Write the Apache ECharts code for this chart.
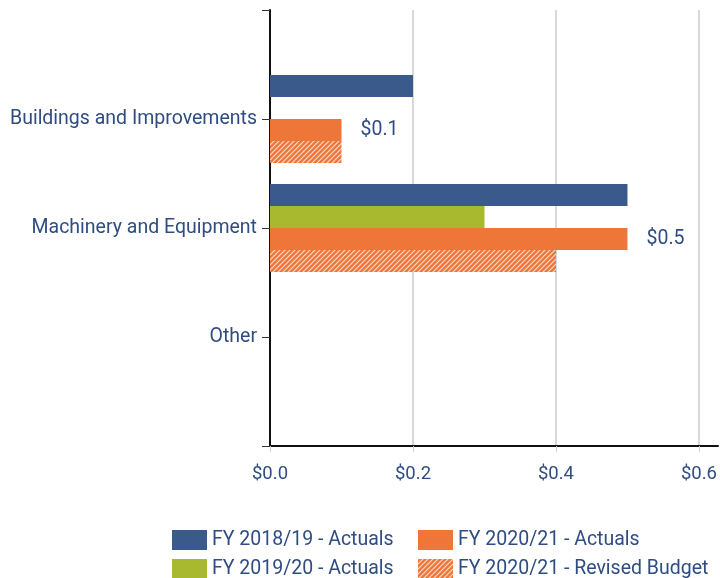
<!DOCTYPE html>
<html>
<head>
<meta charset="UTF-8">
<title>Capital Outlay</title>
<style>
    body,
    html {
        width: 100%;
        height: 100%;
        margin: 0;
        padding: 0;
        background: #fff;
    }
    #myChart {
        width: 720px;
        height: 578px;
    }
</style>
<script src="https://cdn.jsdelivr.net/npm/echarts@6/dist/echarts.min.js"></script>
</head>
<body>
<div id="myChart"></div>
<script>

    // 数据（ 上到下，两端空类目留出半格 ）
    let categories = ['', 'Buildings and Improvements', 'Machinery and Equipment', 'Other', ''];
    let fy1819Actuals = [null, 0.2, 0.5, null, null];
    let fy1920Actuals = [null, null, 0.3, null, null];
    let fy2021Actuals = [null, 0.1, 0.5, null, null];
    let fy2021Budget = [null, 0.1, 0.4, null, null];
    let xTicks = [0, 0.2, 0.4, 0.6];

    let blue = '#3a5a8c';
    let green = '#a9b92f';
    let orange = '#ee7639';
    let textBlue = '#2f4d82';

    // 斜线填充
    let hatch = document.createElement('canvas');
    hatch.width = 5;
    hatch.height = 5;
    let ctx = hatch.getContext('2d');
    ctx.fillStyle = orange;
    ctx.fillRect(0, 0, 5, 5);
    ctx.strokeStyle = 'rgba(255,255,255,0.75)';
    ctx.lineWidth = 1.2;
    ctx.beginPath();
    ctx.moveTo(-1, 6); ctx.lineTo(6, -1);
    ctx.moveTo(-1, 1); ctx.lineTo(1, -1);
    ctx.moveTo(4, 6); ctx.lineTo(6, 4);
    ctx.stroke();
    let hatchFill = { image: hatch, repeat: 'repeat' };

    let myEcharts = echarts.init(document.querySelector('#myChart'));

    let font = { fontFamily: 'Roboto', fontSize: 19.5, color: textBlue };

    // 图例：两列，每项单独放
    function legendItem(name, left, top) {
        return {
            left: left, top: top,
            itemWidth: 35, itemHeight: 20, icon: 'rect',
            textStyle: font,
            data: [name]
        };
    }

    let option = {
        animation: false,
        textStyle: { fontFamily: 'Roboto' },
        grid: [
            { left: 270, right: 20, top: 10, bottom: 132, containLabel: false },
            { left: 270, right: 2, top: 10, bottom: 132, containLabel: false }
        ],
        legend: [
            legendItem('FY 2018/19 - Actuals', 167, 525),
            legendItem('FY 2019/20 - Actuals', 167, 554),
            legendItem('FY 2020/21 - Actuals', 413, 525),
            legendItem('FY 2020/21 - Revised Budget', 413, 554)
        ],
        xAxis: [
            {
                type: 'value', min: xTicks[0], max: xTicks[xTicks.length - 1], interval: 0.2,
                axisLine: { show: false },
                axisTick: { show: true, length: 6, lineStyle: { color: '#cfcfcf', width: 1 } },
                splitLine: { show: true, lineStyle: { color: '#d9d9d9', width: 2 } },
                axisLabel: Object.assign({ margin: 19, formatter: v => '$' + v.toFixed(1) }, font, { fontSize: 18.5 })
            },
            {
                gridIndex: 1, type: 'value', min: 0, max: 1,
                axisLine: { show: true, lineStyle: { color: '#111', width: 2 } },
                axisTick: { show: false }, axisLabel: { show: false }, splitLine: { show: false }
            }
        ],
        yAxis: [
            {
                type: 'category', data: categories, inverse: true, boundaryGap: false,
                axisLine: { show: true, lineStyle: { color: '#111', width: 2 } },
                axisTick: { show: true, length: 8, lineStyle: { color: '#333', width: 1 } },
                axisLabel: Object.assign({ margin: 13 }, font)
            },
            {
                gridIndex: 1, type: 'value', show: false
            }
        ],
        series: [
            {
                name: 'FY 2018/19 - Actuals', type: 'bar', data: fy1819Actuals,
                barWidth: 22, barGap: '0%', itemStyle: { color: blue }
            },
            {
                name: 'FY 2019/20 - Actuals', type: 'bar', data: fy1920Actuals,
                barWidth: 22, barGap: '0%', itemStyle: { color: green }
            },
            {
                name: 'FY 2020/21 - Actuals', type: 'bar', data: fy2021Actuals,
                barWidth: 22, barGap: '0%', itemStyle: { color: orange },
                label: {
                    show: true, position: 'right', distance: 19,
                    fontFamily: 'Roboto', fontSize: 19.5, color: textBlue,
                    formatter: p => '$' + p.value.toFixed(1)
                }
            },
            {
                name: 'FY 2020/21 - Revised Budget', type: 'bar', data: fy2021Budget,
                barWidth: 22, barGap: '0%', itemStyle: { color: hatchFill }
            }
        ]
    };
    myEcharts.setOption(option, true);

</script>
</body>
</html>
